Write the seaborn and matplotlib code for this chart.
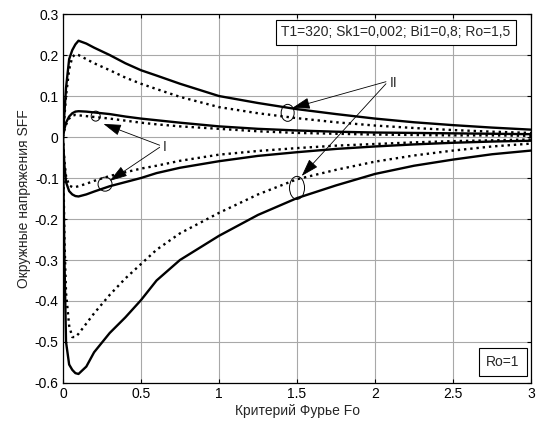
import numpy as np
import pandas as pd
import matplotlib
matplotlib.use("Agg")
import matplotlib.pyplot as plt
import seaborn as sns
from matplotlib.patches import Ellipse

# ---- data ----
fo = [0, 0.01, 0.02, 0.04, 0.06, 0.08, 0.1, 0.15, 0.2, 0.3, 0.4, 0.5, 0.6, 0.75,
      1.0, 1.25, 1.5, 1.75, 2.0, 2.25, 2.5, 2.75, 3.0]

outer_solid_upper = [0, 0.06, 0.12, 0.19, 0.212, 0.226, 0.235, 0.228, 0.218, 0.2, 0.18,
                     0.163, 0.15, 0.13, 0.1, 0.083, 0.068, 0.056, 0.045, 0.036, 0.029, 0.023, 0.018]
outer_dotted_upper = [0, 0.05, 0.1, 0.165, 0.195, 0.202, 0.2, 0.19, 0.18, 0.163, 0.145,
                      0.13, 0.117, 0.098, 0.073, 0.058, 0.046, 0.036, 0.028, 0.022, 0.017, 0.013, 0.01]
inner_solid_upper = [0, 0.02, 0.035, 0.05, 0.058, 0.062, 0.063, 0.062, 0.06, 0.056, 0.05,
                     0.045, 0.041, 0.035, 0.026, 0.02, 0.016, 0.013, 0.011, 0.01, 0.009, 0.008, 0.007]
inner_dotted_upper = [0, 0.018, 0.03, 0.045, 0.052, 0.054, 0.053, 0.051, 0.049, 0.045, 0.04,
                      0.035, 0.031, 0.026, 0.02, 0.014, 0.01, 0.008, 0.006, 0.005, 0.004, 0.004, 0.003]
inner_dotted_lower = [0, -0.06, -0.095, -0.118, -0.122, -0.122, -0.12, -0.114, -0.107, -0.095, -0.086,
                      -0.077, -0.07, -0.058, -0.043, -0.034, -0.027, -0.021, -0.017, -0.013, -0.01, -0.008, -0.006]
inner_solid_lower = [0, -0.07, -0.11, -0.132, -0.14, -0.144, -0.145, -0.14, -0.133, -0.12, -0.11,
                     -0.1, -0.088, -0.075, -0.059, -0.046, -0.037, -0.029, -0.023, -0.018, -0.014, -0.011, -0.009]
outer_dotted_lower = [0, -0.25, -0.38, -0.46, -0.488, -0.488, -0.48, -0.455, -0.43, -0.385, -0.345,
                      -0.31, -0.275, -0.235, -0.185, -0.14, -0.103, -0.08, -0.06, -0.045, -0.033, -0.023, -0.016]
outer_solid_lower = [0, -0.3, -0.5, -0.555, -0.568, -0.576, -0.578, -0.56, -0.525, -0.478, -0.44,
                     -0.398, -0.35, -0.3, -0.241, -0.19, -0.149, -0.118, -0.09, -0.07, -0.055, -0.042, -0.033]

x_ticks = [0, 0.5, 1, 1.5, 2, 2.5, 3]
x_tick_labels = ["0", "0.5", "1", "1.5", "2", "2.5", "3"]
y_ticks = [-0.6, -0.5, -0.4, -0.3, -0.2, -0.1, 0, 0.1, 0.2, 0.3]
y_tick_labels = ["-0.6", "-0.5", "-0.4", "-0.3", "-0.2", "-0.1", "0", "0.1", "0.2", "0.3"]

x_label = "Критерий Фурье Fo"
y_label = "Окружные напряжения SFF"
params_text = "T1=320; Sk1=0,002; Bi1=0,8; Ro=1,5"
ro_text = "Ro=1"

# ---- style ----
sns.set_style("ticks")
plt.rcParams["font.family"] = ["Liberation Sans", "DejaVu Sans"]
plt.rcParams["font.size"] = 10

fig = plt.figure(figsize=(5.47, 4.26), dpi=100)
ax = fig.add_axes([0.115, 0.101, 0.856, 0.866])

curves = [
    (outer_solid_upper, "-"),
    (outer_dotted_upper, ":"),
    (inner_solid_upper, "-"),
    (inner_dotted_upper, ":"),
    (inner_dotted_lower, ":"),
    (inner_solid_lower, "-"),
    (outer_dotted_lower, ":"),
    (outer_solid_lower, "-"),
]
for vals, ls in curves:
    df = pd.DataFrame({"Fo": fo, "S": vals})
    sns.lineplot(data=df, x="Fo", y="S", ax=ax, color="black", linestyle=ls,
                 linewidth=1.7, estimator=None, sort=False)

ax.set_xlim(0, 3)
ax.set_ylim(-0.6, 0.3)
ax.set_xticks(x_ticks)
ax.set_xticklabels(x_tick_labels)
ax.set_yticks(y_ticks)
ax.set_yticklabels(y_tick_labels)
ax.grid(True, color="#a8a8a8", linewidth=0.8, linestyle="-")
ax.set_axisbelow(True)
ax.tick_params(direction="in", top=True, right=True, length=3, width=0.8,
               labelsize=10, colors="black", pad=3)
for s in ax.spines.values():
    s.set_color("black")
    s.set_linewidth(0.9)
ax.set_xlabel(x_label, fontsize=10, labelpad=2)
ax.set_ylabel(y_label, fontsize=10, labelpad=3)

# parameter boxes
ax.text(0.711, 0.951, params_text, transform=ax.transAxes, ha="center", va="center",
        fontsize=10, bbox=dict(boxstyle="square,pad=0.4", fc="white", ec="black", lw=0.8))
ax.text(0.94, 0.057, ro_text, transform=ax.transAxes, ha="center", va="center",
        fontsize=10, bbox=dict(boxstyle="square,pad=0.5", fc="white", ec="black", lw=0.8))

# ellipses (px sizes converted to data units: 156 px per Fo unit, 410 px per 1.0 S)
def ell(xc, yc, wpx, hpx):
    ax.add_patch(Ellipse((xc, yc), wpx / 156.0, hpx / 410.0, fill=False, ec="black", lw=0.7, zorder=5))

ell(0.21, 0.051, 9, 10)
ell(0.27, -0.115, 14, 14)
ell(1.44, 0.059, 13, 17)
ell(1.50, -0.124, 15, 23)

arrow_kw = dict(arrowstyle="-|>,head_length=1.1,head_width=0.35", color="black", lw=0.6,
                shrinkA=0, shrinkB=0)
ax.text(0.655, -0.024, "I", fontsize=10, ha="center", va="center")
ax.annotate("", xy=(0.26, 0.032), xytext=(0.62, -0.02), arrowprops=arrow_kw)
ax.annotate("", xy=(0.3, -0.107), xytext=(0.62, -0.025), arrowprops=arrow_kw)

ax.text(2.12, 0.132, "II", fontsize=10, ha="center", va="center")
ax.annotate("", xy=(1.47, 0.071), xytext=(2.07, 0.135), arrowprops=arrow_kw)
ax.annotate("", xy=(1.53, -0.095), xytext=(2.07, 0.13), arrowprops=arrow_kw)

fig.savefig("out.png", dpi=100)
